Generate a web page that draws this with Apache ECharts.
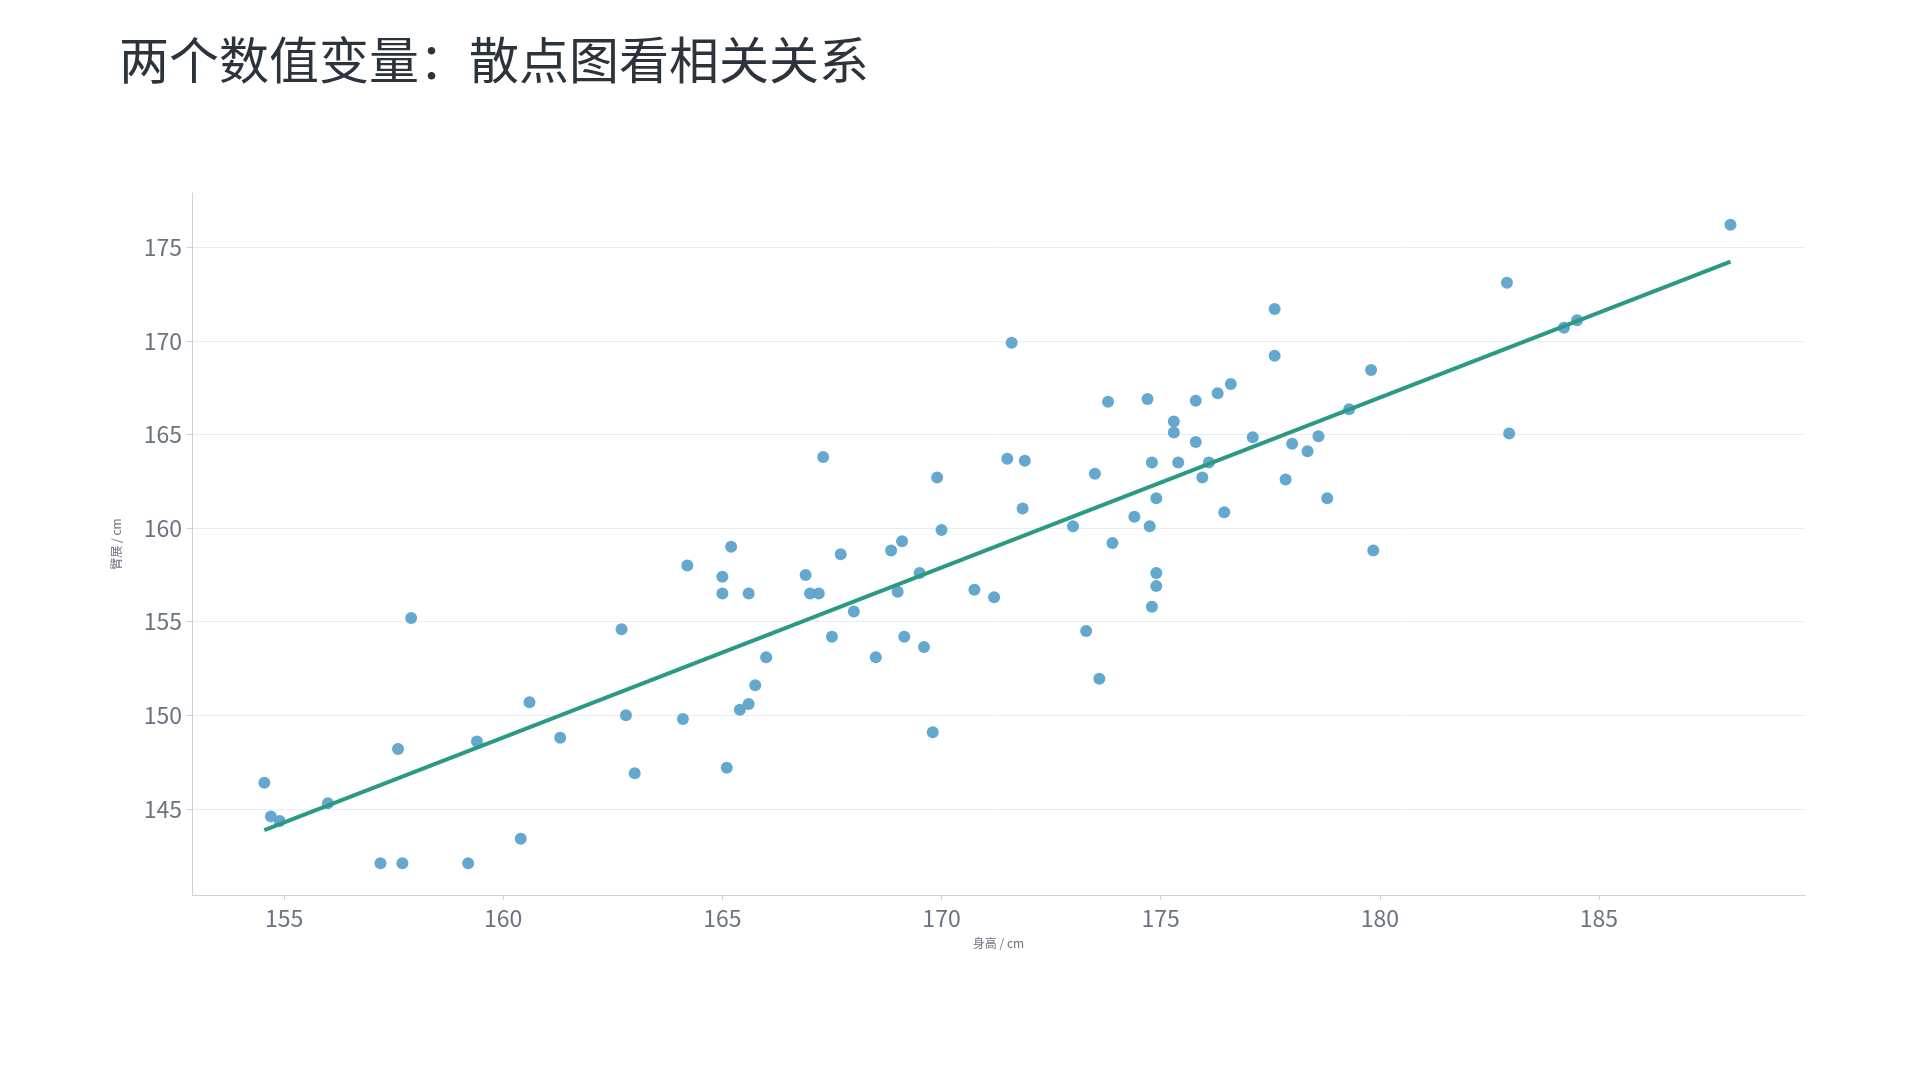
<!DOCTYPE html><html><head><meta charset="utf-8">
<script src="https://cdn.jsdelivr.net/npm/echarts@6/dist/echarts.min.js"></script>
<style>html,body{margin:0;padding:0;background:#fff}#c{width:1920px;height:1080px}</style></head>
<body><div id="c"></div><script>
const heights=[154.55,154.7,154.9,156.0,157.2,157.7,157.6,157.9,159.2,159.4,160.4,160.6,161.3,162.7,162.8,163.0,164.1,164.2,165.0,165.0,165.2,165.1,165.4,165.6,165.6,165.75,166.0,166.9,167.0,167.2,167.3,167.5,167.7,168.0,168.5,168.85,169.1,169.0,169.15,169.5,169.6,169.8,169.9,170.0,170.75,171.2,171.5,171.6,171.9,171.85,173.0,173.3,173.5,173.6,173.8,173.9,174.4,174.7,174.75,174.8,174.8,174.9,174.9,174.9,175.3,175.3,175.4,175.8,175.8,175.95,176.1,176.3,176.45,176.6,177.1,177.6,177.6,177.85,178.0,178.35,178.6,178.8,179.3,179.8,179.85,182.9,182.95,184.2,184.5,188.0];
const spans=[146.4,144.6,144.35,145.3,142.1,142.1,148.2,155.2,142.1,148.6,143.4,150.7,148.8,154.6,150.0,146.9,149.8,158.0,157.4,156.5,159.0,147.2,150.3,150.6,156.5,151.6,153.1,157.5,156.5,156.5,163.8,154.2,158.6,155.55,153.1,158.8,159.3,156.6,154.2,157.6,153.65,149.1,162.7,159.9,156.7,156.3,163.7,169.9,163.6,161.05,160.1,154.5,162.9,151.95,166.75,159.2,160.6,166.9,160.1,155.8,163.5,161.6,157.6,156.9,165.1,165.7,163.5,164.6,166.8,162.7,163.5,167.2,160.85,167.7,164.85,169.2,171.7,162.6,164.5,164.1,164.9,161.6,166.35,168.45,158.8,173.1,165.05,170.7,171.1,176.2];
const xTicks=[155,160,165,170,175,180,185];
const yTicks=[145,150,155,160,165,170,175];
const pts=heights.map((h,i)=>[h,spans[i]]);
const n=pts.length;let mx=0,my=0;pts.forEach(p=>{mx+=p[0];my+=p[1];});mx/=n;my/=n;
let sxy=0,sxx=0;pts.forEach(p=>{sxy+=(p[0]-mx)*(p[1]-my);sxx+=(p[0]-mx)**2;});
const b=sxy/sxx,a=my-b*mx;
const x0=Math.min(...heights),x1=Math.max(...heights);
const fit=[[x0,a+b*x0],[x1,a+b*x1]];
const axLab={color:'#6b7280',fontSize:23,fontFamily:'Noto Sans CJK SC'};
const c=echarts.init(document.getElementById('c'));
c.setOption({
 title:{text:'两个数值变量：散点图看相关关系',left:114,top:30,textStyle:{fontSize:50,fontWeight:'normal',color:'#2b333d',fontFamily:'Noto Sans CJK SC'}},
 grid:{left:192,right:115,top:193,bottom:185},
 xAxis:{type:'value',min:152.9,max:189.7,name:'身高 / cm',nameLocation:'middle',nameGap:42,
  nameTextStyle:{fontSize:12,color:'#6b7280',fontFamily:'Noto Sans CJK SC'},
  axisLine:{lineStyle:{color:'#c8d2de'}},axisTick:{show:true,customValues:xTicks,lineStyle:{color:'#c8d2de'}},
  axisLabel:Object.assign({customValues:xTicks,margin:12},axLab),splitLine:{show:false}},
 yAxis:{type:'value',min:140.4,max:177.9,name:'臂展 / cm',nameLocation:'middle',nameGap:70,
  nameTextStyle:{fontSize:12,color:'#6b7280',fontFamily:'Noto Sans CJK SC'},
  axisLine:{show:true,lineStyle:{color:'#c8d2de'}},axisTick:{show:true,customValues:yTicks,lineStyle:{color:'#c8d2de'}},
  axisLabel:Object.assign({customValues:yTicks,margin:10},axLab),splitLine:{show:true,lineStyle:{color:'#e8edf3'}}},
 series:[
  {type:'scatter',data:pts,symbolSize:12,itemStyle:{color:'#5da3cc',opacity:0.95},z:3},
  {type:'line',data:fit,symbol:'none',lineStyle:{color:'#2a9a85',width:4},z:4,silent:true}
 ]
});
</script></body></html>
